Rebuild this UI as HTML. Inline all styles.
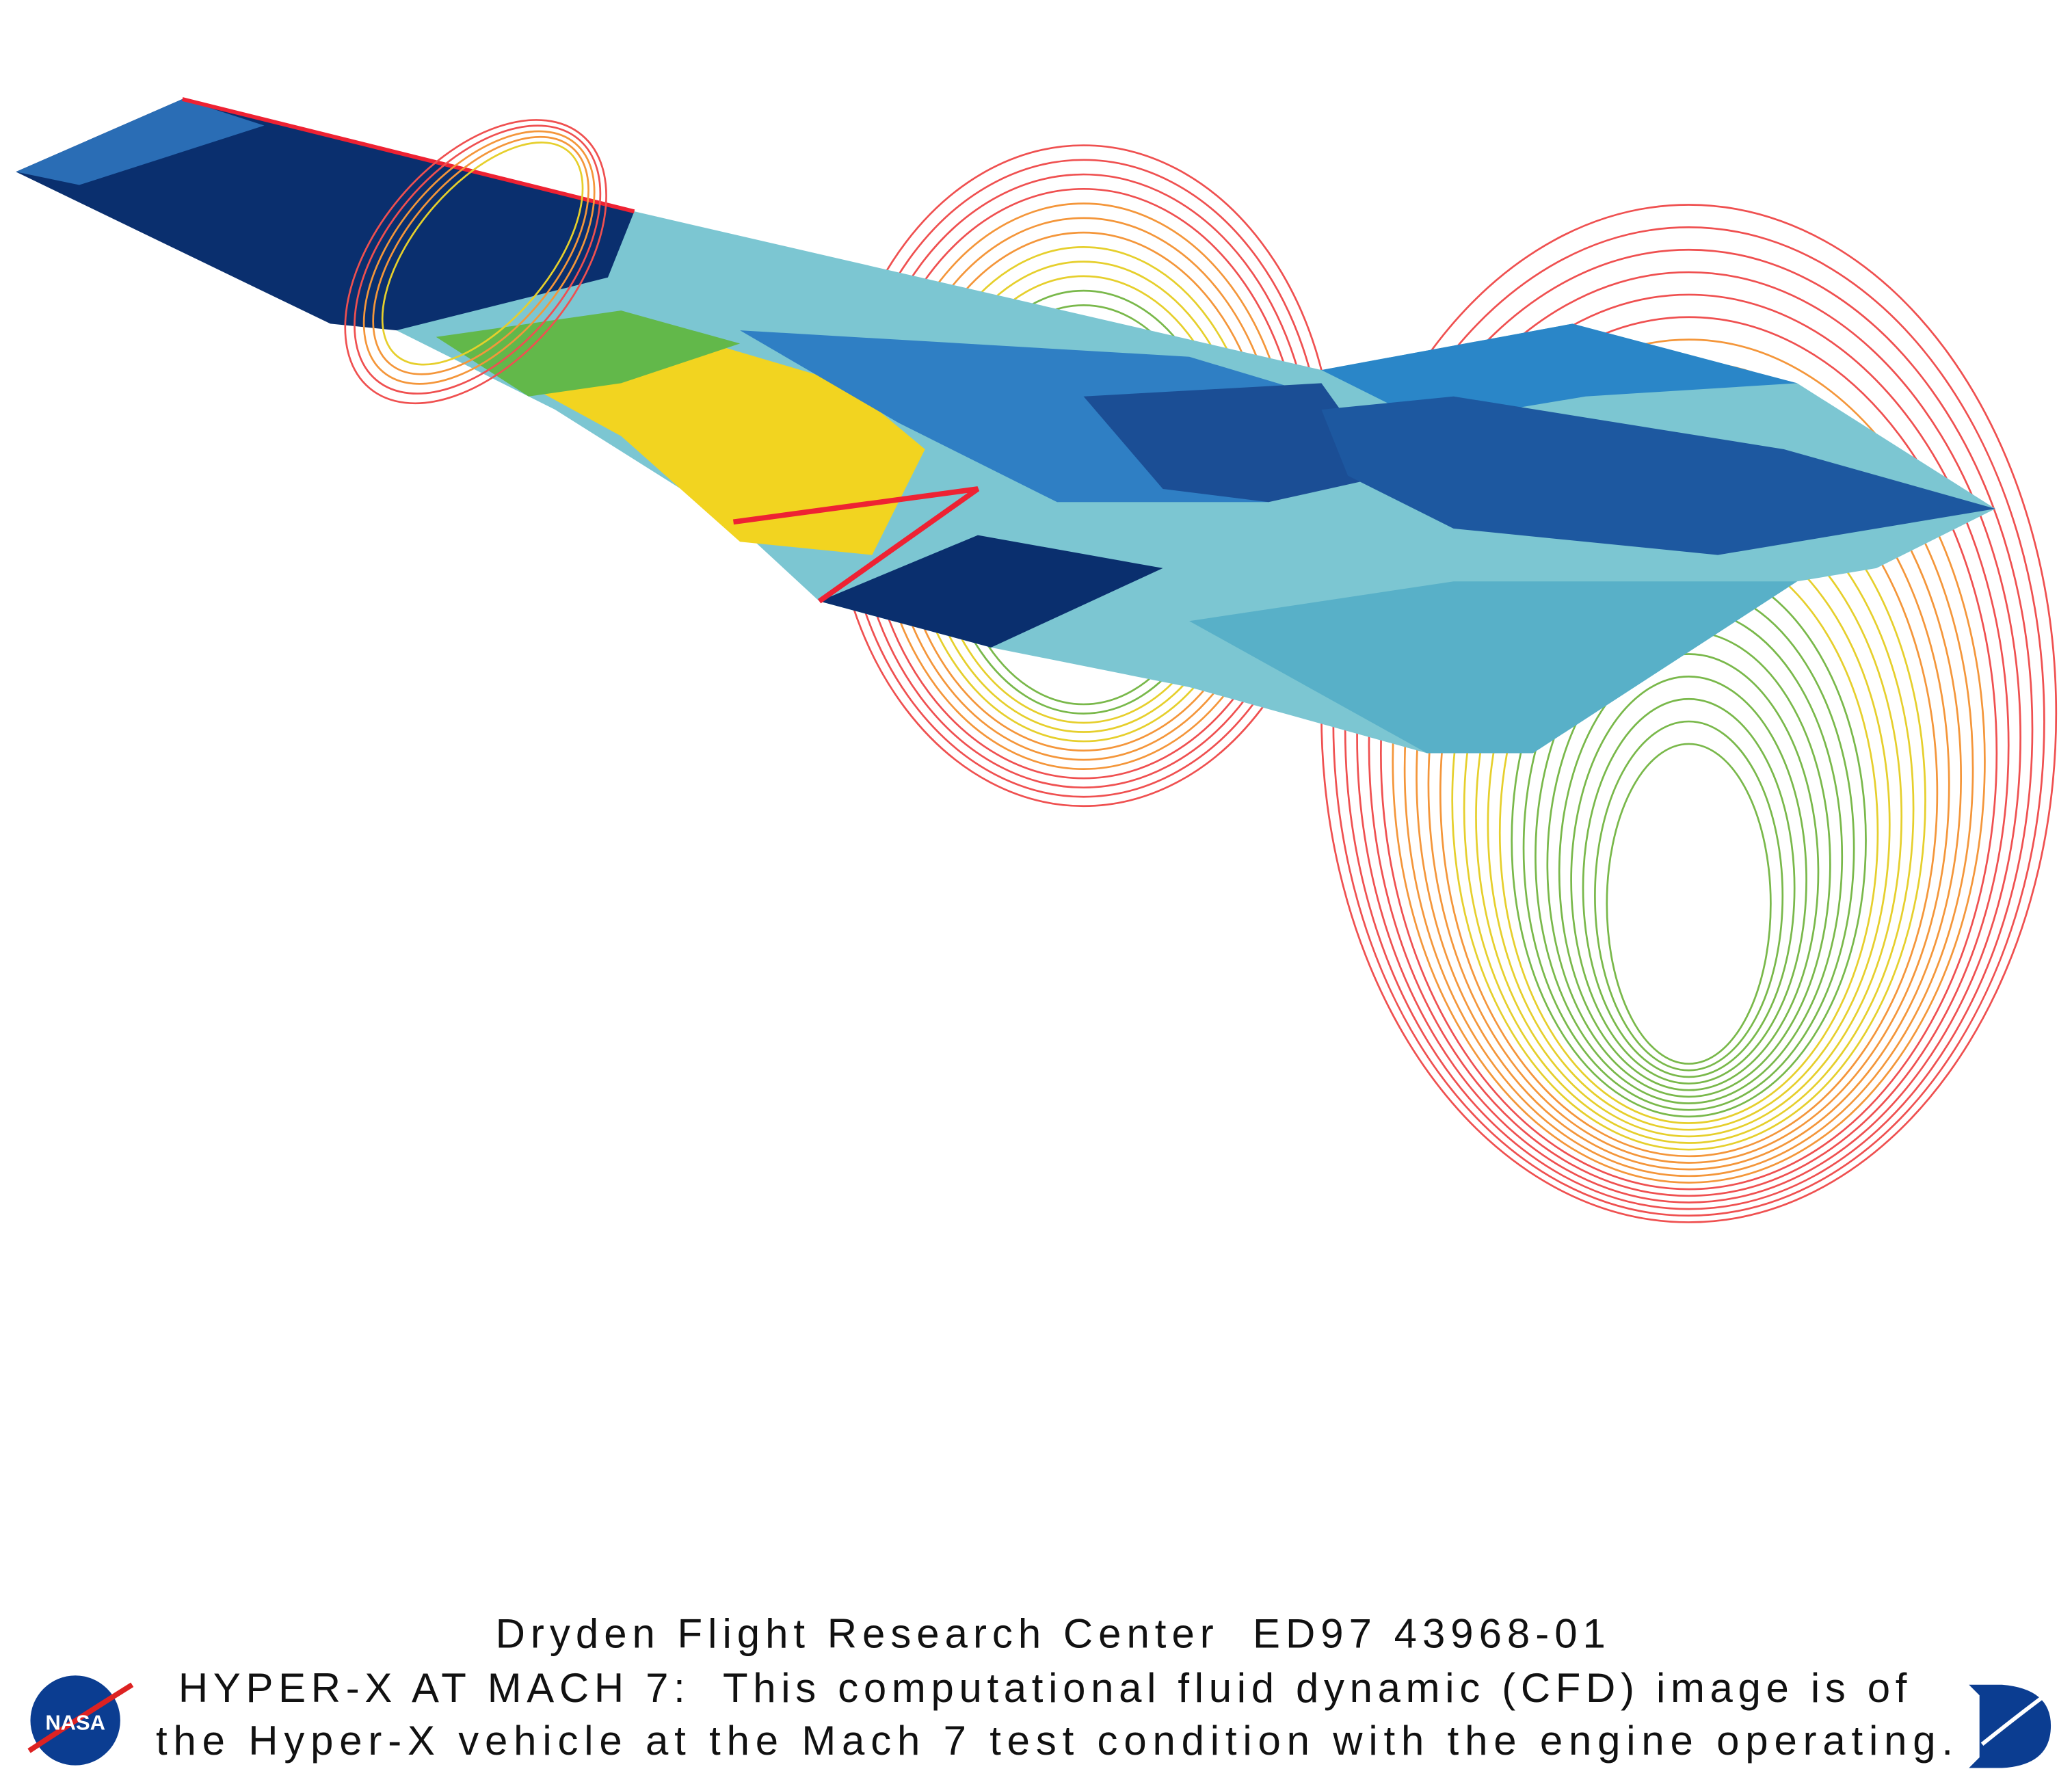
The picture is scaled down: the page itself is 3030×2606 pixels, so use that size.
<!DOCTYPE html>
<html><head><meta charset="utf-8">
<style>
html,body{margin:0;padding:0;background:#fff;}
svg{display:block;}
text{font-family:"Liberation Sans",sans-serif;fill:#111;}
ellipse{fill:none;stroke-width:1.4;}
.r{stroke:#ef5050}.o{stroke:#f4963a}.y{stroke:#e6cf2c}.g{stroke:#79b84a}
</style></head>
<body>
<svg width="3030" height="2606" viewBox="0 0 1568 1348.6" xmlns="http://www.w3.org/2000/svg">
<rect width="1568" height="1348.6" fill="#fff"/>
<g>
<ellipse class="r" cx="1278" cy="540" rx="278" ry="385"/>
<ellipse class="r" cx="1278" cy="546" rx="269" ry="374"/>
<ellipse class="r" cx="1278" cy="552" rx="260" ry="363"/>
<ellipse class="r" cx="1278" cy="558" rx="251" ry="352"/>
<ellipse class="r" cx="1278" cy="564" rx="242" ry="341"/>
<ellipse class="r" cx="1278" cy="570" rx="233" ry="330"/>
<ellipse class="o" cx="1278" cy="576" rx="224" ry="319"/>
<ellipse class="o" cx="1278" cy="582" rx="215" ry="308"/>
<ellipse class="o" cx="1278" cy="588" rx="206" ry="297"/>
<ellipse class="o" cx="1278" cy="594" rx="197" ry="286"/>
<ellipse class="o" cx="1278" cy="600" rx="188" ry="275"/>
<ellipse class="y" cx="1278" cy="606" rx="179" ry="264"/>
<ellipse class="y" cx="1278" cy="612" rx="170" ry="253"/>
<ellipse class="y" cx="1278" cy="618" rx="161" ry="242"/>
<ellipse class="y" cx="1278" cy="624" rx="152" ry="231"/>
<ellipse class="y" cx="1278" cy="630" rx="143" ry="220"/>
<ellipse class="g" cx="1278" cy="636" rx="134" ry="209"/>
<ellipse class="g" cx="1278" cy="642" rx="125" ry="198"/>
<ellipse class="g" cx="1278" cy="648" rx="116" ry="187"/>
<ellipse class="g" cx="1278" cy="654" rx="107" ry="176"/>
<ellipse class="g" cx="1278" cy="660" rx="98" ry="165"/>
<ellipse class="g" cx="1278" cy="666" rx="89" ry="154"/>
<ellipse class="g" cx="1278" cy="672" rx="80" ry="143"/>
<ellipse class="g" cx="1278" cy="678" rx="71" ry="132"/>
<ellipse class="g" cx="1278" cy="684" rx="62" ry="121"/>
</g>
<g>
<ellipse class="r" cx="820" cy="360" rx="190" ry="250"/>
<ellipse class="r" cx="820" cy="362" rx="182" ry="241"/>
<ellipse class="r" cx="820" cy="364" rx="174" ry="232"/>
<ellipse class="r" cx="820" cy="366" rx="166" ry="223"/>
<ellipse class="o" cx="820" cy="368" rx="158" ry="214"/>
<ellipse class="o" cx="820" cy="370" rx="150" ry="205"/>
<ellipse class="o" cx="820" cy="372" rx="142" ry="196"/>
<ellipse class="y" cx="820" cy="374" rx="134" ry="187"/>
<ellipse class="y" cx="820" cy="376" rx="126" ry="178"/>
<ellipse class="y" cx="820" cy="378" rx="118" ry="169"/>
<ellipse class="g" cx="820" cy="380" rx="110" ry="160"/>
<ellipse class="g" cx="820" cy="382" rx="102" ry="151"/>
</g>
<g>
  <polygon points="300,250 480,160 1000,280 1190,245 1360,290 1510,385 1420,430 1360,440 1160,570 1080,570 900,520 750,490 620,455 555,395 420,310" fill="#7cc6d2"/>
  <polygon points="12,130 138,75 480,160 460,210 300,250 250,245" fill="#0a2f6e"/>
  <polygon points="12,130 138,75 200,95 60,140" fill="#2a6db5"/>
  <polygon points="360,270 470,240 640,290 700,340 660,420 560,410 470,330" fill="#f2d420"/>
  <polygon points="330,255 470,235 560,260 470,290 400,300" fill="#62b84a"/>
  <polygon points="560,250 900,270 1000,300 960,380 800,380 680,320" fill="#2f7fc4"/>
  <polygon points="820,300 1000,290 1050,360 960,380 880,370" fill="#1b4e95"/>
  <polygon points="1000,280 1190,245 1360,290 1200,300 1080,320" fill="#2a86c8"/>
  <polygon points="1000,310 1100,300 1350,340 1510,385 1300,420 1100,400 1020,360" fill="#1d58a0"/>
  <polygon points="620,455 740,405 880,430 750,490" fill="#0a2f6e"/>
  <polygon points="900,470 1100,440 1360,440 1160,570 1080,570" fill="#58b0c8"/>
  <polyline points="138,75 480,160" stroke="#e23" stroke-width="3" fill="none"/>
  <polyline points="555,395 740,370 620,455" stroke="#e23" stroke-width="4" fill="none"/>
</g>
<g>
<ellipse class="r" cx="360" cy="198" rx="125" ry="75" transform="rotate(-50 360 198)"/>
<ellipse class="r" cx="362" cy="198" rx="119" ry="69" transform="rotate(-50 360 198)"/>
<ellipse class="o" cx="364" cy="198" rx="113" ry="63" transform="rotate(-50 360 198)"/>
<ellipse class="o" cx="366" cy="198" rx="107" ry="57" transform="rotate(-50 360 198)"/>
<ellipse class="y" cx="368" cy="198" rx="101" ry="51" transform="rotate(-50 360 198)"/>
</g>
<g>
  <text x="375" y="1247" font-size="31" textLength="840" lengthAdjust="spacing" xml:space="preserve">Dryden Flight Research Center  ED97 43968-01</text>
  <text x="135" y="1288" font-size="31" textLength="1308" lengthAdjust="spacing" xml:space="preserve">HYPER-X AT MACH 7:  This computational fluid dynamic (CFD) image is of</text>
  <text x="118" y="1328" font-size="31" textLength="1360" lengthAdjust="spacing">the Hyper-X vehicle at the Mach 7 test condition with the engine operating.</text>
</g>
<g>
  <circle cx="57" cy="1302" r="34" fill="#0b3d91"/>
  <path d="M22,1325 Q60,1300 100,1275" stroke="#d22" stroke-width="4" fill="none"/>
  <text x="57" y="1309" font-size="16" font-weight="bold" text-anchor="middle" style="fill:#fff">NASA</text>
</g>
<g>
  <path d="M1490,1275 L1515,1275 Q1552,1278 1552,1306 Q1552,1336 1515,1338 L1490,1338 L1498,1330 L1498,1283 Z" fill="#0b3d91"/>
  <path d="M1500,1320 Q1525,1300 1545,1285" stroke="#fff" stroke-width="3" fill="none"/>
</g>
</svg>
</body></html>
